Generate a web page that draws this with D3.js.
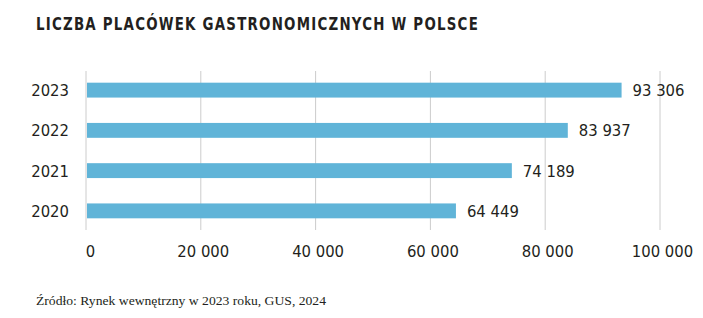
<!DOCTYPE html>
<html>
<head>
<meta charset="utf-8">
<script src="https://cdn.jsdelivr.net/npm/d3@7"></script>
<style>
  body { margin: 0; background: #fff; }
  .num { font-family: "DejaVu Sans Condensed", "Liberation Sans Narrow", Roboto, sans-serif; font-size: 16.5px; fill: #231f20; }
</style>
</head>
<body>
<div id="chart"></div>
<script>
// Data
const years = ["2023", "2022", "2021", "2020"];
const counts = [93306, 83937, 74189, 64449];
const tickValues = [0, 20000, 40000, 60000, 80000, 100000];
const title = "LICZBA PLACÓWEK GASTRONOMICZNYCH W POLSCE";
const source = "Źródło: Rynek wewnętrzny w 2023 roku, GUS, 2024";

const W = 703, H = 318;
const fmt = v => d3.format(",")(v).replace(/,/g, " ");

const svg = d3.select("#chart").append("svg")
    .attr("width", W).attr("height", H);

const x = d3.scaleLinear().domain([0, 100000]).range([86, 660]);
const y = d3.scaleBand().domain(years).range([70, 231]).paddingInner(0.63).paddingOuter(0.315);

// title
svg.append("text")
    .attr("x", 36).attr("y", 30)
    .attr("textLength", 443).attr("lengthAdjust", "spacingAndGlyphs")
    .style("font-family", "'DejaVu Sans Condensed', 'DejaVu Sans', sans-serif")
    .style("font-weight", "700").style("font-size", "18px").style("letter-spacing", "1.5px")
    .style("fill", "#231f20")
    .text(title);

// gridlines
svg.append("g").selectAll("line").data(tickValues).enter().append("line")
    .attr("x1", d => x(d)).attr("x2", d => x(d))
    .attr("y1", 71).attr("y2", 230)
    .attr("stroke", "#cccccc").attr("stroke-width", 1);

// bars
const data = years.map((yr, i) => ({ year: yr, value: counts[i] }));
svg.append("g").selectAll("rect").data(data).enter().append("rect")
    .attr("x", x(0) + 1)
    .attr("y", d => y(d.year))
    .attr("width", d => x(d.value) - x(0) - 1)
    .attr("height", y.bandwidth())
    .attr("fill", "#60b4d8");

// value labels
svg.append("g").selectAll("text").data(data).enter().append("text")
    .attr("class", "num")
    .attr("x", d => x(d.value) + 11)
    .attr("y", d => y(d.year) + y.bandwidth() / 2)
    .attr("dy", "0.36em")
    .text(d => fmt(d.value));

// y axis labels
svg.append("g").selectAll("text").data(years).enter().append("text")
    .attr("class", "num")
    .attr("x", 69).attr("text-anchor", "end")
    .attr("y", d => y(d) + y.bandwidth() / 2)
    .attr("dy", "0.36em")
    .text(d => d);

// x axis
const xAxis = svg.append("g").attr("transform", "translate(0,245)")
    .call(d3.axisBottom(x).tickValues(tickValues).tickFormat(fmt).tickSize(0).tickPadding(0));
xAxis.select(".domain").remove();
xAxis.selectAll(".tick text").attr("class", "num").attr("dy", "0.71em")
    .attr("dx", (d) => d === 0 ? 4 : 2);

// source
svg.append("text")
    .attr("x", 36).attr("y", 305)
    .attr("textLength", 290).attr("lengthAdjust", "spacingAndGlyphs")
    .style("font-family", "'Liberation Serif', serif").style("font-size", "13.5px").style("fill", "#231f20")
    .text(source);
</script>
</body>
</html>
